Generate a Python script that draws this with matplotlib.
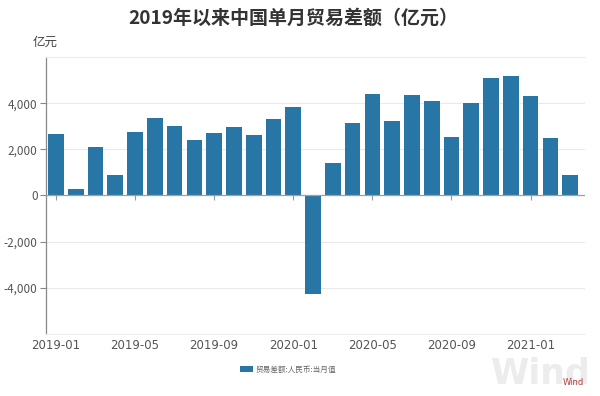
import matplotlib
matplotlib.use("Agg")
import matplotlib.pyplot as plt
import numpy as np
from matplotlib.patches import Patch

plt.rcParams['font.family'] = ['Noto Sans CJK SC', 'DejaVu Sans']

months = ["2019-01", "2019-02", "2019-03", "2019-04", "2019-05", "2019-06", "2019-07",
          "2019-08", "2019-09", "2019-10", "2019-11", "2019-12", "2020-01", "2020-02",
          "2020-03", "2020-04", "2020-05", "2020-06", "2020-07", "2020-08", "2020-09",
          "2020-10", "2020-11", "2020-12", "2021-01", "2021-02", "2021-03"]
values = [2650, 260, 2120, 880, 2760, 3350, 3030, 2400, 2710, 2970, 2630, 3320, 3830,
          -4270, 1400, 3160, 4390, 3230, 4360, 4110, 2540, 4000, 5080, 5170, 4290, 2470, 870]
tick_labels = ["2019-01", "2019-05", "2019-09", "2020-01", "2020-05", "2020-09", "2021-01"]
y_ticks = [-4000, -2000, 0, 2000, 4000]

title = "2019年以来中国单月贸易差额（亿元）"
unit = "亿元"
legend_label = "贸易差额:人民币:当月值"

bar_color = "#2876a6"

fig = plt.figure(figsize=(6, 3.96), dpi=100)
ax = fig.add_axes([0.0767, 0.157, 0.975 - 0.0767, 0.856 - 0.157])

x = np.arange(len(months))
ax.bar(x, values, width=0.79, color=bar_color, zorder=3)

ax.set_xlim(-0.5, 26.75)
ax.set_ylim(-6000, 6000)

ax.set_yticks(y_ticks)
ax.set_yticklabels([f"{v:,}" for v in y_ticks])
ax.tick_params(axis='y', length=4, width=0.8, color='#888888', labelcolor='#555555',
               labelsize=8.5, pad=2)
ax.grid(axis='y', color='#e9e9e9', linewidth=0.8, zorder=0)

tick_pos = [months.index(m) for m in tick_labels]
ax.set_xticks(tick_pos)
ax.set_xticklabels(tick_labels, family='DejaVu Sans')
ax.tick_params(axis='x', length=0, labelcolor='#555555', labelsize=8.5, pad=4)

ax.spines['right'].set_visible(False)
ax.spines['top'].set_color('#ececec')
ax.spines['top'].set_linewidth(0.8)
ax.spines['left'].set_color('#888888')
ax.spines['left'].set_linewidth(0.9)
ax.spines['bottom'].set_color('#eeeeee')
ax.spines['bottom'].set_linewidth(0.8)

# zero line with small tick marks
ax.axhline(0, color='#a0a0a0', linewidth=0.9, zorder=4)
ax.plot(tick_pos, [0] * len(tick_pos), linestyle='none', marker=3, markersize=3.5,
        markeredgewidth=0.8, color='#999999', zorder=4, clip_on=False)

fig.text(0.488, 0.955, title, ha='center', va='center', fontsize=13.7,
         fontweight='bold', color='#333333')
fig.text(0.055, 0.894, unit, ha='left', va='center', fontsize=9, color='#444444')

fig.legend(handles=[Patch(facecolor=bar_color, edgecolor='none')],
           labels=[legend_label], loc='center', bbox_to_anchor=(0.48, 0.066),
           frameon=False, fontsize=5.5, handlelength=1.6, handleheight=0.9,
           handletextpad=0.3, labelcolor='#666666')

fig.text(0.902, 0.058, "Wind", ha='center', va='center', fontsize=25,
         fontweight='bold', color='#ececec', family='DejaVu Sans', zorder=0)
fig.text(0.955, 0.033, "Wind", ha='center', va='center', fontsize=6,
         color='#b04040', family='DejaVu Sans')

fig.savefig("out.png", dpi=100, facecolor='white')
